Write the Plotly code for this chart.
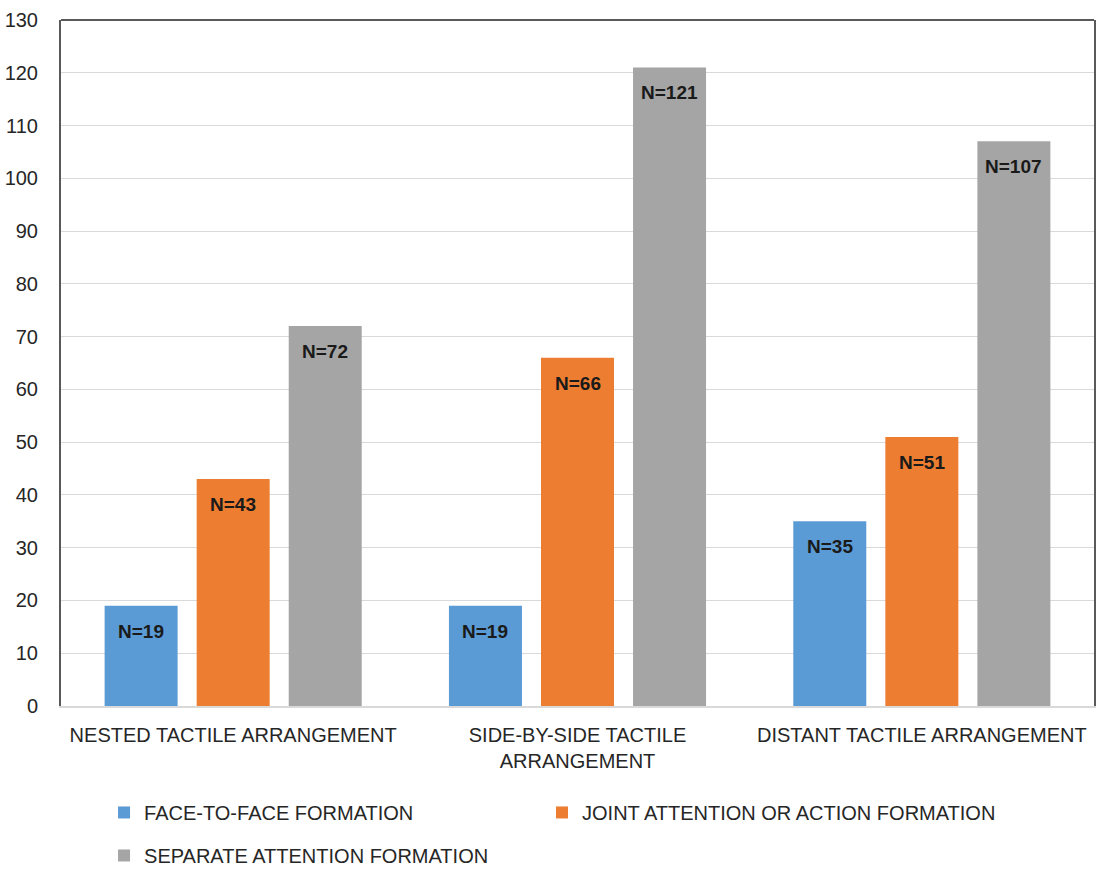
import plotly.graph_objects as go

categories = ["NESTED TACTILE ARRANGEMENT", "SIDE-BY-SIDE TACTILE<br>ARRANGEMENT", "DISTANT TACTILE ARRANGEMENT"]
series_names = ["FACE-TO-FACE FORMATION", "JOINT ATTENTION OR ACTION FORMATION", "SEPARATE ATTENTION FORMATION"]
face_to_face = [19, 19, 35]
joint_attention = [43, 66, 51]
separate_attention = [72, 121, 107]
y_ticks = list(range(0, 131, 10))

colors = ["#5B9BD5", "#ED7D31", "#A5A5A5"]
FONT = "Liberation Sans Narrow, Arial Narrow, Liberation Sans, Arial, sans-serif"

W, H = 1101, 869
margin = dict(l=61, r=7, t=20, b=163)
plot_w = W - margin["l"] - margin["r"]
bargap = 0.198
slot = plot_w / len(categories) * (1 - bargap) / 3

fig = go.Figure()
all_series = [face_to_face, joint_attention, separate_attention]
legends = ["legend", "legend2", "legend3"]
for i, (name, vals) in enumerate(zip(series_names, all_series)):
    fig.add_trace(go.Bar(x=categories, y=vals, name=name, legend=legends[i],
                         marker=dict(color=colors[i], line=dict(width=0))))
    for c, v in zip(categories, vals):
        fig.add_annotation(x=c, y=v, text=f"<b>N={v}</b>", showarrow=False,
                           xshift=(i - 1) * slot, yshift=-13, yanchor="top",
                           font=dict(family=FONT, size=19, color="#1a1a1a"))

fig.add_shape(type="line", xref="paper", yref="paper", x0=0, x1=1, y0=1, y1=1,
              line=dict(color="#595959", width=2))

legend_common = dict(orientation="h", xanchor="left", yanchor="top",
                     xref="container", yref="container",
                     font=dict(size=20, color="#262626"), traceorder="normal",
                     bgcolor="rgba(0,0,0,0)")

fig.update_layout(
    width=W, height=H, margin=margin,
    paper_bgcolor="white", plot_bgcolor="white",
    barmode="group", bargap=bargap, bargroupgap=0.207,
    font=dict(family=FONT, size=20, color="#262626"),
    xaxis=dict(showline=True, linecolor="#D9D9D9", linewidth=2, ticks="", automargin=False,
               tickfont=dict(size=20, color="#262626"), ticklabelstandoff=10),
    yaxis=dict(range=[0, 130], tickvals=y_ticks, showgrid=True, gridcolor="#D9D9D9", gridwidth=1,
               showline=True, linecolor="#595959", linewidth=2, mirror=True, zeroline=False,
               automargin=False,
               ticks="", tickfont=dict(size=20, color="#262626"), ticklabelstandoff=17),
    legend=dict(x=0.0945, y=0.0875, **legend_common),
    legend2=dict(x=0.4923, y=0.0875, **legend_common),
    legend3=dict(x=0.0945, y=0.038, **legend_common),
    showlegend=True,
)

fig.write_html("out.html")
